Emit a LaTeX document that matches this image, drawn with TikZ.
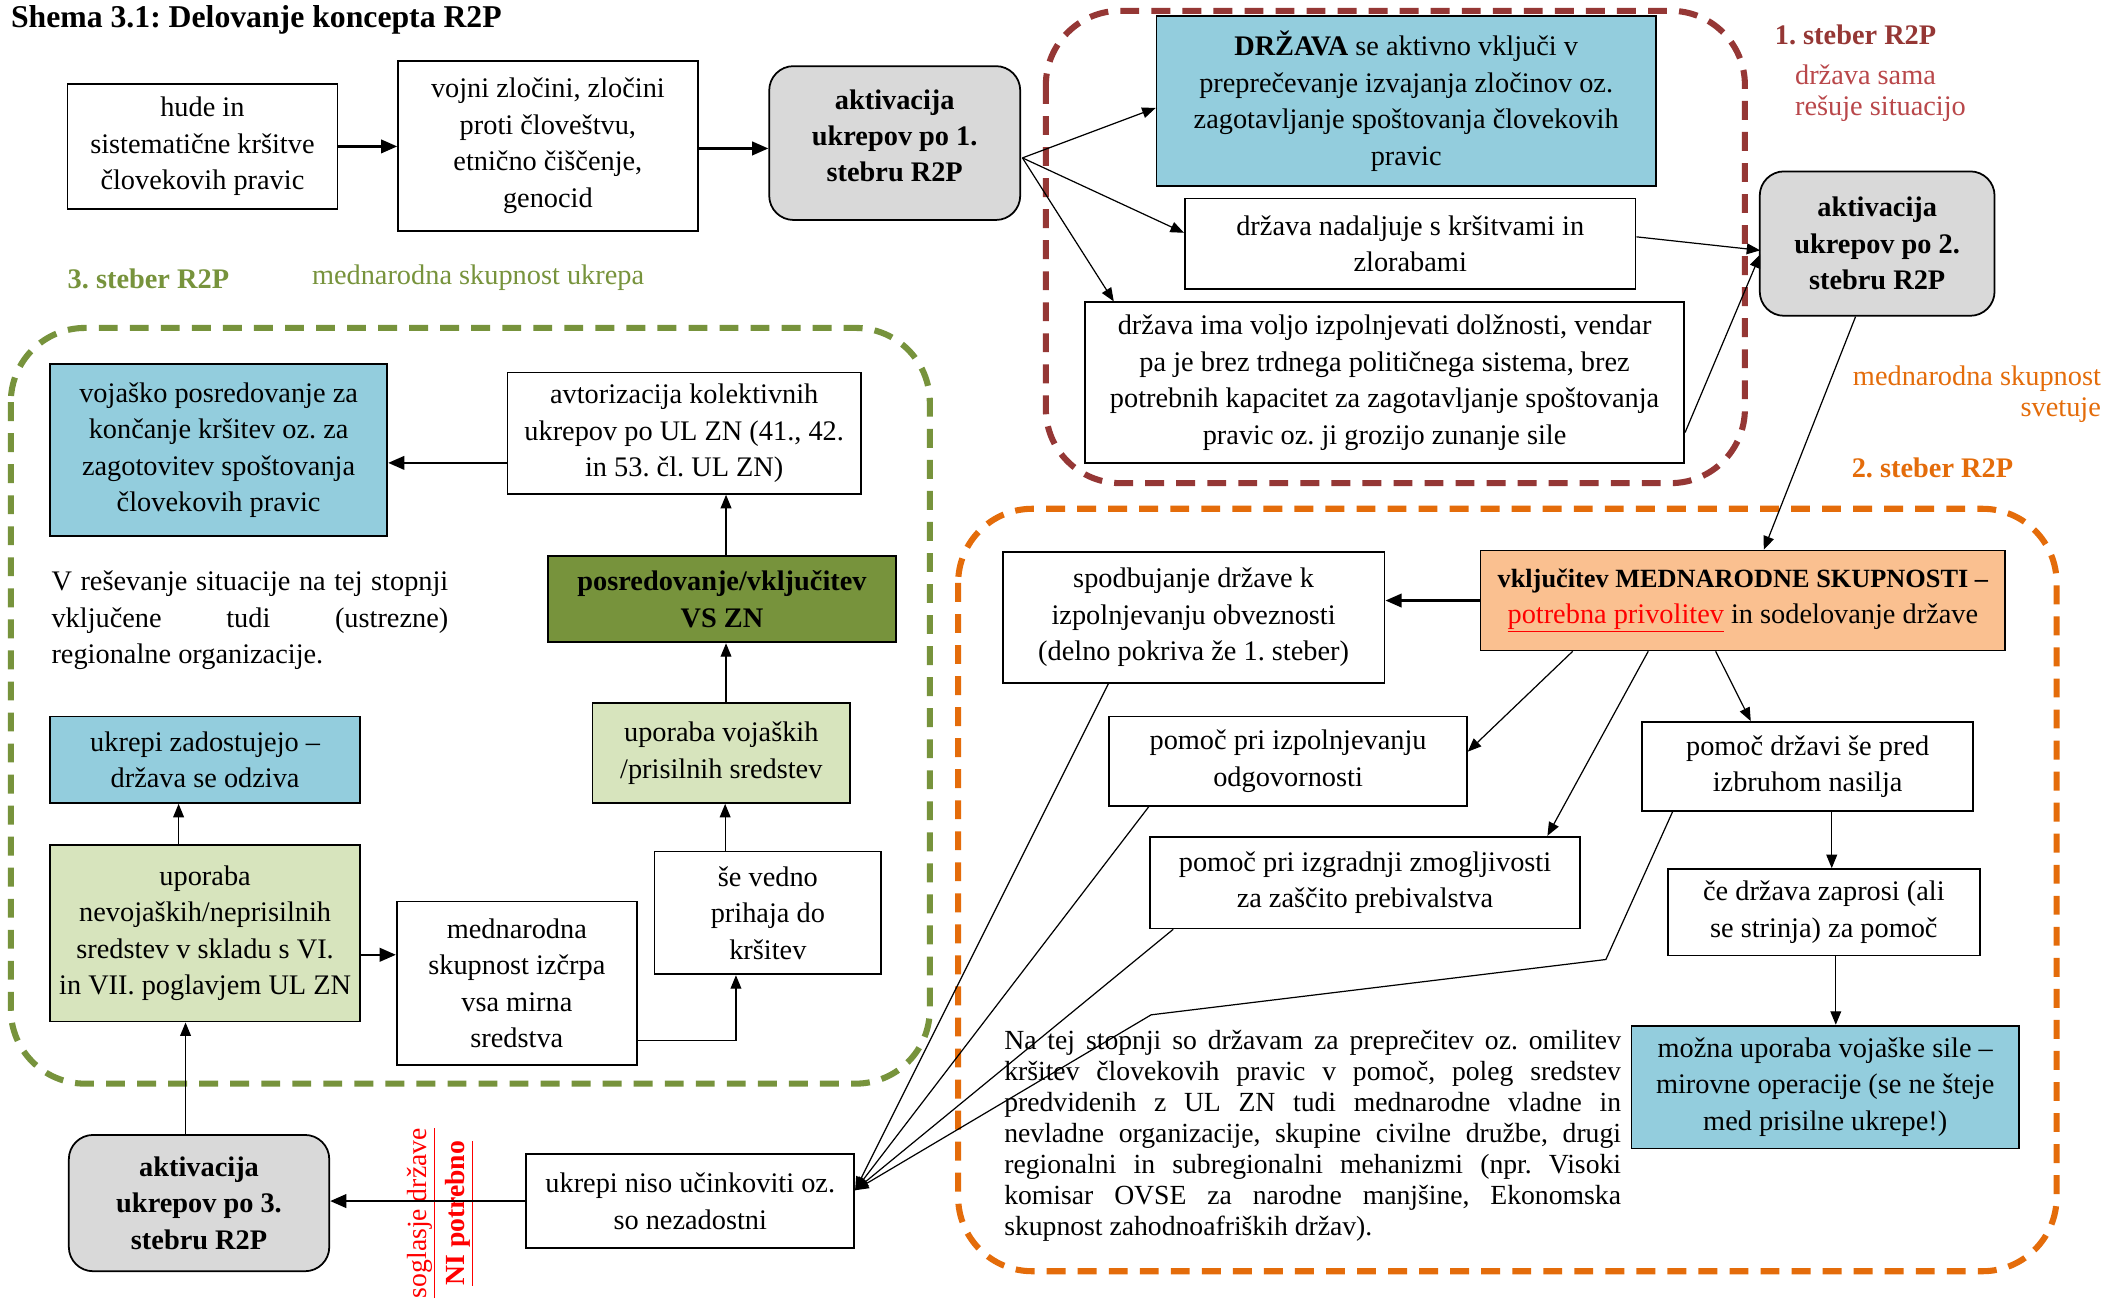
\documentclass[tikz,border=0pt]{standalone}
\usepackage{fontspec}
\setmainfont{Liberation Serif}
\usetikzlibrary{arrows.meta,calc}
\definecolor{rd}{HTML}{953735}
\definecolor{rdl}{HTML}{B9474A}
\definecolor{og}{HTML}{E46C0A}
\definecolor{gn}{HTML}{77933C}
\definecolor{lb}{HTML}{93CDDD}
\definecolor{lo}{HTML}{FAC090}
\definecolor{lg}{HTML}{D7E4BD}
\definecolor{gy}{HTML}{D9D9D9}
\newcommand\boxfont{\fontsize{21}{27}\selectfont}
\newcommand\parfont{\fontsize{20.5}{23}\selectfont}
\newcommand\labfont{\fontsize{21}{23}\selectfont}
\frenchspacing
\begin{document}
\begin{tikzpicture}[x=1pt,y=-1pt,
  box/.style={draw, line width=1.3pt, align=center, inner sep=0pt, font=\boxfont},
  sz/.style 2 args={minimum width=#1pt, minimum height=#2pt},
  rbox/.style={box, rounded corners=18pt, fill=gy, font=\boxfont\bfseries},
  arr/.style={-{Triangle[length=10pt,width=8pt]}, line width=0.9pt},
  tarr/.style={-{Triangle[length=12pt,width=10pt]}, line width=1.8pt},
  cont/.style={line width=4.5pt, dash pattern=on 14pt off 9pt, rounded corners=55pt},
  lab/.style={inner sep=0pt, font=\labfont},
]
\useasboundingbox[fill=white] (0,0) rectangle (1568,962);

% containers
\draw[cont, rd] (775,8) rectangle (1293,358);
\draw[cont, og] (710,377) rectangle (1524,942);
\draw[cont, gn] (8,243) rectangle (689,803);

% title and labels
\node[anchor=west, inner sep=0pt, font=\fontsize{23.5}{27}\selectfont\bfseries] (title) at (8,15) {Shema 3.1: Delovanje koncepta R2P};
\node[lab, anchor=west, text=rd, font=\labfont\bfseries] (l1) at (1315,26) {1. steber R2P};
\node[lab, anchor=north west, align=left, text=rdl] (l1b) at (1330,48) {država sama\\rešuje situacijo};
\node[lab, anchor=north east, align=right, text=og] (l2b) at (1557,271) {mednarodna skupnost\\svetuje};
\node[lab, anchor=west, text=og, font=\labfont\bfseries] (l2) at (1372,347) {2. steber R2P};
\node[lab, anchor=west, text=gn, font=\labfont\bfseries] (l3) at (50,207) {3. steber R2P};
\node[lab, anchor=west, text=gn] (l3b) at (231,206) {mednarodna skupnost ukrepa};

% top row
\node[box, sz={200}{93}] (A) at (150,108.5) {hude in\\sistematične kršitve\\človekovih pravic};
\node[box, sz={222}{126}] (B) at (406,108) {vojni zločini, zločini\\proti človeštvu,\\etnično čiščenje,\\genocid};
\node[rbox, sz={186}{114}, text depth=11pt] (C) at (663,106) {aktivacija\\ukrepov po 1.\\stebru R2P};

% pillar 1
\node[box, fill=lb, sz={370}{126}] (D) at (1042,75) {\textbf{DRŽAVA} se aktivno vključi v\\preprečevanje izvajanja zločinov oz.\\zagotavljanje spoštovanja človekovih\\pravic};
\node[box, sz={334}{67}] (E) at (1045,180.5) {država nadaljuje s kršitvami in\\zlorabami};
\node[box, sz={444}{119}] (F) at (1026,283.5) {država ima voljo izpolnjevati dolžnosti, vendar\\pa je brez trdnega političnega sistema, brez\\potrebnih kapacitet za zagotavljanje spoštovanja\\pravic oz. ji grozijo zunanje sile};
\node[rbox, sz={174}{107}] (G) at (1391,180.5) {aktivacija\\ukrepov po 2.\\stebru R2P};

% pillar 2
\node[box, fill=lo, sz={389}{74}] (H) at (1291.5,445) {{\fontsize{19.5}{27}\selectfont\bfseries vključitev MEDNARODNE SKUPNOSTI –}\\\textcolor{red}{\underline{potrebna privolitev}} in sodelovanje države};
\node[box, sz={283}{97}] (I) at (884.5,457.5) {spodbujanje države k\\izpolnjevanju obveznosti\\(delno pokriva že 1. steber)};
\node[box, sz={265}{66}] (J) at (954.5,564) {pomoč pri izpolnjevanju\\odgovornosti};
\node[box, sz={319}{68}] (K) at (1011.5,654) {pomoč pri izgradnji zmogljivosti\\za zaščito prebivalstva};
\node[box, sz={245}{66}] (L) at (1339.5,568) {pomoč državi še pred\\izbruhom nasilja};
\node[box, sz={231}{64}] (M) at (1351.5,676) {če država zaprosi (ali\\se strinja) za pomoč};
\node[box, fill=lb, sz={287}{91}] (N) at (1352.5,805.5) {možna uporaba vojaške sile –\\mirovne operacije (se ne šteje\\med prisilne ukrepe!)};
\node[inner sep=0pt, font=\parfont, anchor=north west, align=left] (par2) at (744,763) {%
\makebox[457pt][s]{Na tej stopnji so državam za preprečitev oz. omilitev}\\
\makebox[457pt][s]{kršitev človekovih pravic v pomoč, poleg sredstev}\\
\makebox[457pt][s]{predvidenih z UL ZN tudi mednarodne vladne in}\\
\makebox[457pt][s]{nevladne organizacije, skupine civilne družbe, drugi}\\
\makebox[457pt][s]{regionalni in subregionalni mehanizmi (npr. Visoki}\\
\makebox[457pt][s]{komisar OVSE za narodne manjšine, Ekonomska}\\
skupnost zahodnoafriških držav).};

% bottom
\node[box, sz={243}{70}] (O) at (511.5,890) {ukrepi niso učinkoviti oz.\\so nezadostni};
\node[rbox, sz={193}{101}] (P) at (147.5,891.5) {aktivacija\\ukrepov po 3.\\stebru R2P};
\node[rotate=90, inner sep=0pt, font=\fontsize{20.5}{28}\selectfont, text=red, align=center] (nc) at (326,899) {\underline{soglasje države}\\\underline{\textbf{NI potrebno}}};

% pillar 3
\node[box, fill=lb, sz={250}{127}] (Q) at (162,333.5) {vojaško posredovanje za\\končanje kršitev oz. za\\zagotovitev spoštovanja\\človekovih pravic};
\node[box, sz={262}{90}] (R) at (507,321) {avtorizacija kolektivnih\\ukrepov po UL ZN (41., 42.\\in 53. čl. UL ZN)};
\node[box, fill=gn, sz={258}{64}, font=\boxfont\bfseries] (S) at (535,444) {posredovanje/vključitev\\VS ZN};
\node[box, fill=lg, sz={191}{74}] (T) at (534.5,558) {uporaba vojaških\\/prisilnih sredstev};
\node[box, sz={168}{91}] (U) at (569,676.5) {še vedno\\prihaja do\\kršitev};
\node[box, sz={178}{121}] (V) at (383,728.5) {mednarodna\\skupnost izčrpa\\vsa mirna\\sredstva};
\node[box, fill=lg, sz={230}{131}] (W) at (152,691.5) {uporaba\\nevojaških/neprisilnih\\sredstev v skladu s VI.\\in VII. poglavjem UL ZN};
\node[box, fill=lb, sz={230}{64}] (X) at (152,563) {ukrepi zadostujejo –\\država se odziva};
\node[inner sep=0pt, anchor=north west, align=left, font=\boxfont] (par3) at (38,423) {%
\makebox[294pt][s]{V reševanje situacije na tej stopnji}\\
\makebox[294pt][s]{vključene tudi (ustrezne)}\\
regionalne organizacije.};

% helper coordinates
\coordinate (pb) at ($(B.east)+(0,2)$);
\coordinate (c1) at ($(C.east)+(1,11)$);
\coordinate (pl) at ($(L.south west)+(141,0)$);
\coordinate (pm) at ($(M.south west)+(125,0)$);
\coordinate (pp) at ($(P.north)+(-10,0)$);
\coordinate (pw) at ($(W.north west)+(96,0)$);
\coordinate (pw2) at ($(W.east)+(0,16)$);
\coordinate (pu) at ($(U.north west)+(53,0)$);
\coordinate (pt) at ($(T.north)+(3.5,0)$);
\coordinate (ps) at ($(S.north)+(3,0)$);
\coordinate (pr) at ($(R.west)+(0,22)$);
\coordinate (oin) at ($(O.east)+(0,-8)$);
\coordinate (lb1) at (1190,711);
\coordinate (lb2) at (853,752);

% connectors: top
\draw[tarr] (A.east) -- (A.east -| B.west);
\draw[tarr] (pb) -- (pb -| C.west);
\draw[arr] (c1) -- ($(D.west)+(0,5)$);
\draw[arr] (c1) -- ($(E.west)+(0,-8)$);
\draw[arr] (c1) -- ($(F.north west)+(22,0)$);
\draw[arr] ($(E.east)+(0,-5)$) -- ($(G.west)+(1,5)$);
\draw[arr] ($(F.east)+(0,37)$) -- ($(G.west)+(1,8)$);
\draw[arr] ($(G.south)+(-16,0)$) -- ($(H.north)+(15.5,0)$);

% connectors: pillar 2
\draw[tarr] (H.west) -- (H.west -| I.east);
\draw[arr] ($(H.south west)+(69,0)$) -- ($(J.east)+(0,-7)$);
\draw[arr] ($(H.south west)+(125,0)$) -- ($(K.north east)+(-25,0)$);
\draw[arr] ($(H.south west)+(175,0)$) -- ($(L.north west)+(81,0)$);
\draw[arr] (pl) -- (pl |- M.north);
\draw[arr] (pm) -- (pm |- N.north);
\draw[arr] ($(I.south west)+(79,0)$) -- (oin);
\draw[arr] ($(J.south west)+(30,0)$) -- (oin);
\draw[arr] ($(K.south west)+(18,0)$) -- (oin);
\draw[arr] ($(L.south west)+(23,0)$) -- (lb1) -- (lb2) -- (oin);

% connectors: bottom and pillar 3
\draw[tarr] (O.west) -- (O.west -| P.east);
\draw[arr] (pp) -- (pp |- W.south);
\draw[arr] (pw) -- (pw |- X.south);
\draw[tarr] (pw2) -- (pw2 -| V.west);
\draw[arr] ($(V.east)+(0,42.5)$) -| ($(U.south west)+(61,0)$);
\draw[arr] (pu) -- (pu |- T.south);
\draw[arr] (pt) -- (pt |- S.south);
\draw[arr] (ps) -- (ps |- R.south);
\draw[tarr] (pr) -- (pr -| Q.east);
\end{tikzpicture}
\end{document}
